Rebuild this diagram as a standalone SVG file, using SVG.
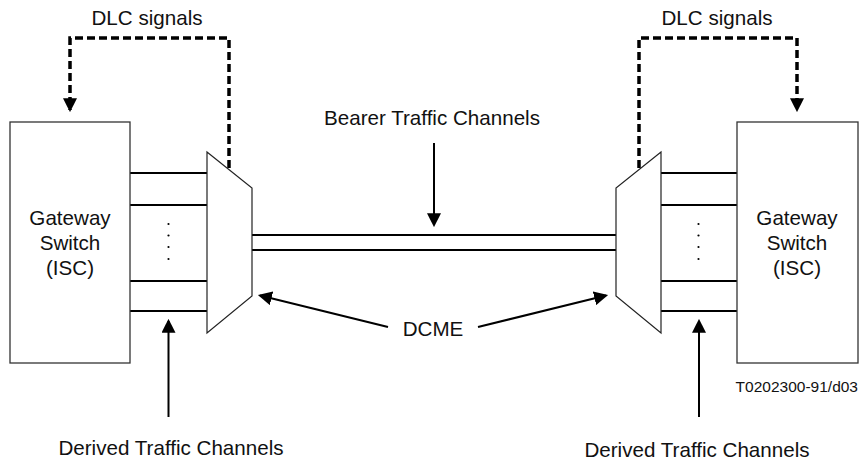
<svg xmlns="http://www.w3.org/2000/svg" width="862" height="467" viewBox="0 0 862 467">
<style>
.box{fill:#fff;stroke:#333;stroke-width:1.3}
.trap{fill:#fff;stroke:#222;stroke-width:1.2}
.ch{stroke:#000;stroke-width:2;fill:none}
.arr{stroke:#000;stroke-width:2;fill:none;marker-end:url(#ah)}
.dash{stroke:#000;stroke-width:3.5;fill:none;stroke-dasharray:8 4;marker-end:url(#ah)}
.t{font-family:"Liberation Sans",Arial,sans-serif;font-size:20.6px;fill:#111;text-anchor:middle}
.dot{fill:#000}
</style>
<defs>
<marker id="ah" markerUnits="userSpaceOnUse" markerWidth="14" markerHeight="14" refX="11" refY="6.5" orient="auto" viewBox="0 0 13 13">
<path d="M0,0 L13,6.5 L0,13 z" fill="#000"/>
</marker>
</defs>
<rect width="862" height="467" fill="#fff"/>
<g id="connectors">
<path class="dash" d="M229,168 V38 H70 V110"/>
<path class="dash" d="M639,168 V38 H797 V110"/>
<line class="ch" x1="130" y1="173" x2="207" y2="173"/>
<line class="ch" x1="130" y1="205" x2="207" y2="205"/>
<line class="ch" x1="130" y1="281" x2="207" y2="281"/>
<line class="ch" x1="130" y1="311" x2="207" y2="311"/>
<line class="ch" x1="661" y1="173" x2="737" y2="173"/>
<line class="ch" x1="661" y1="205" x2="737" y2="205"/>
<line class="ch" x1="661" y1="281" x2="737" y2="281"/>
<line class="ch" x1="661" y1="311" x2="737" y2="311"/>
<line class="ch" x1="252" y1="235" x2="616" y2="235"/>
<line class="ch" x1="252" y1="250" x2="616" y2="250"/>
<circle class="dot" cx="168.5" cy="224" r="1.1"/>
<circle class="dot" cx="168.5" cy="235.5" r="1.1"/>
<circle class="dot" cx="168.5" cy="247" r="1.1"/>
<circle class="dot" cx="168.5" cy="259" r="1.1"/>
<circle class="dot" cx="698.5" cy="224" r="1.1"/>
<circle class="dot" cx="698.5" cy="235.5" r="1.1"/>
<circle class="dot" cx="698.5" cy="247" r="1.1"/>
<circle class="dot" cx="698.5" cy="259" r="1.1"/>
<line class="arr" x1="434" y1="143" x2="434" y2="225"/>
<line class="arr" x1="388" y1="327" x2="260" y2="295.5"/>
<line class="arr" x1="478" y1="327" x2="606" y2="295.5"/>
<line class="arr" x1="168.5" y1="417" x2="168.5" y2="321"/>
<line class="arr" x1="699" y1="417" x2="699" y2="321"/>
</g>
<g id="left-switch">
<rect class="box" x="10" y="122" width="120" height="241"/>
<text class="t" x="70" y="225">Gateway</text>
<text class="t" x="70" y="250">Switch</text>
<text class="t" x="70" y="275">(ISC)</text>
</g>
<g id="right-switch">
<rect class="box" x="737" y="122" width="121" height="241"/>
<text class="t" x="797" y="225">Gateway</text>
<text class="t" x="797" y="250">Switch</text>
<text class="t" x="797" y="275">(ISC)</text>
</g>
<g id="left-dcme">
<polygon class="trap" points="207,152 252,188 252,296 207,333"/>
</g>
<g id="right-dcme">
<polygon class="trap" points="661,152 616,188 616,296 661,333"/>
</g>
<g id="labels">
<text class="t" x="147" y="25">DLC signals</text>
<text class="t" x="717" y="25">DLC signals</text>
<text class="t" x="432" y="125">Bearer Traffic Channels</text>
<text class="t" x="433" y="336">DCME</text>
<text class="t" x="171" y="455">Derived Traffic Channels</text>
<text class="t" x="697" y="457">Derived Traffic Channels</text>
<text x="858" y="392" style="font-family:'Liberation Sans',Arial,sans-serif;font-size:15.5px;fill:#111;text-anchor:end">T0202300-91/d03</text>
</g>
</svg>
